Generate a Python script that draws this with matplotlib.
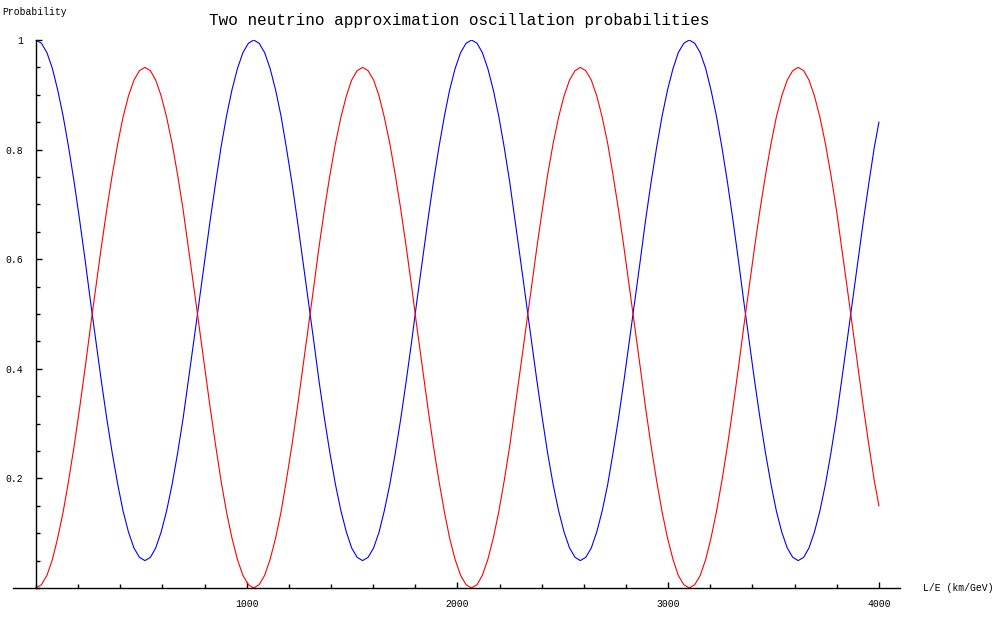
import matplotlib
matplotlib.use("Agg")
import matplotlib.pyplot as plt
from matplotlib.ticker import MultipleLocator

le = [0, 26, 52, 78, 103, 129, 155, 181, 207, 233,
      258, 284, 310, 336, 362, 388, 413, 439, 465, 491,
      517, 543, 568, 594, 620, 646, 672, 698, 723, 749,
      775, 801, 827, 853, 878, 904, 930, 956, 982, 1008,
      1033, 1059, 1085, 1111, 1137, 1163, 1188, 1214, 1240, 1266,
      1292, 1318, 1343, 1369, 1395, 1421, 1447, 1473, 1498, 1524,
      1550, 1576, 1602, 1628, 1653, 1679, 1705, 1731, 1757, 1783,
      1808, 1834, 1860, 1886, 1912, 1938, 1963, 1989, 2015, 2041,
      2067, 2093, 2118, 2144, 2170, 2196, 2222, 2248, 2273, 2299,
      2325, 2351, 2377, 2403, 2428, 2454, 2480, 2506, 2532, 2558,
      2583, 2609, 2635, 2661, 2687, 2713, 2738, 2764, 2790, 2816,
      2842, 2868, 2893, 2919, 2945, 2971, 2997, 3023, 3048, 3074,
      3100, 3126, 3152, 3178, 3203, 3229, 3255, 3281, 3307, 3333,
      3358, 3384, 3410, 3436, 3462, 3488, 3513, 3539, 3565, 3591,
      3617, 3643, 3668, 3694, 3720, 3746, 3772, 3798, 3823, 3849,
      3875, 3901, 3927, 3953, 3978, 4000]

# appearance probability (red)
p_red = [0.0, 0.006, 0.023, 0.052, 0.091, 0.139, 0.196, 0.259, 0.328, 0.401,
         0.475, 0.549, 0.622, 0.691, 0.754, 0.811, 0.859, 0.898, 0.927, 0.944,
         0.95, 0.944, 0.927, 0.898, 0.859, 0.811, 0.754, 0.691, 0.622, 0.549,
         0.475, 0.401, 0.328, 0.259, 0.196, 0.139, 0.091, 0.052, 0.023, 0.006,
         0.0, 0.006, 0.023, 0.052, 0.091, 0.139, 0.196, 0.259, 0.328, 0.401,
         0.475, 0.549, 0.622, 0.691, 0.754, 0.811, 0.859, 0.898, 0.927, 0.944,
         0.95, 0.944, 0.927, 0.898, 0.859, 0.811, 0.754, 0.691, 0.622, 0.549,
         0.475, 0.401, 0.328, 0.259, 0.196, 0.139, 0.091, 0.052, 0.023, 0.006,
         0.0, 0.006, 0.023, 0.052, 0.091, 0.139, 0.196, 0.259, 0.328, 0.401,
         0.475, 0.549, 0.622, 0.691, 0.754, 0.811, 0.859, 0.898, 0.927, 0.944,
         0.95, 0.944, 0.927, 0.898, 0.859, 0.811, 0.754, 0.691, 0.622, 0.549,
         0.475, 0.401, 0.328, 0.259, 0.196, 0.139, 0.091, 0.052, 0.023, 0.006,
         0.0, 0.006, 0.023, 0.052, 0.091, 0.139, 0.196, 0.259, 0.328, 0.401,
         0.475, 0.549, 0.622, 0.691, 0.754, 0.811, 0.859, 0.898, 0.927, 0.944,
         0.95, 0.944, 0.927, 0.898, 0.859, 0.811, 0.754, 0.691, 0.622, 0.549,
         0.475, 0.401, 0.328, 0.259, 0.196, 0.150]

# survival probability (blue)
p_blue = [1.0, 0.994, 0.977, 0.948, 0.909, 0.861, 0.804, 0.741, 0.672, 0.599,
          0.525, 0.451, 0.378, 0.309, 0.246, 0.189, 0.141, 0.102, 0.073, 0.056,
          0.05, 0.056, 0.073, 0.102, 0.141, 0.189, 0.246, 0.309, 0.378, 0.451,
          0.525, 0.599, 0.672, 0.741, 0.804, 0.861, 0.909, 0.948, 0.977, 0.994,
          1.0, 0.994, 0.977, 0.948, 0.909, 0.861, 0.804, 0.741, 0.672, 0.599,
          0.525, 0.451, 0.378, 0.309, 0.246, 0.189, 0.141, 0.102, 0.073, 0.056,
          0.05, 0.056, 0.073, 0.102, 0.141, 0.189, 0.246, 0.309, 0.378, 0.451,
          0.525, 0.599, 0.672, 0.741, 0.804, 0.861, 0.909, 0.948, 0.977, 0.994,
          1.0, 0.994, 0.977, 0.948, 0.909, 0.861, 0.804, 0.741, 0.672, 0.599,
          0.525, 0.451, 0.378, 0.309, 0.246, 0.189, 0.141, 0.102, 0.073, 0.056,
          0.05, 0.056, 0.073, 0.102, 0.141, 0.189, 0.246, 0.309, 0.378, 0.451,
          0.525, 0.599, 0.672, 0.741, 0.804, 0.861, 0.909, 0.948, 0.977, 0.994,
          1.0, 0.994, 0.977, 0.948, 0.909, 0.861, 0.804, 0.741, 0.672, 0.599,
          0.525, 0.451, 0.378, 0.309, 0.246, 0.189, 0.141, 0.102, 0.073, 0.056,
          0.05, 0.056, 0.073, 0.102, 0.141, 0.189, 0.246, 0.309, 0.378, 0.451,
          0.525, 0.599, 0.672, 0.741, 0.804, 0.850]

x_major = [1000, 2000, 3000, 4000]
y_major = [0.2, 0.4, 0.6, 0.8, 1.0]
y_labels = ["0.2", "0.4", "0.6", "0.8", "1"]

mono = "Liberation Mono"

fig = plt.figure(figsize=(10, 6.18), dpi=100)
ax = fig.add_axes([0.013, 30 / 618, 0.887, 548 / 618])

ax.plot(le, p_blue, color="#0000ff", lw=0.8)
ax.plot(le, p_red, color="#ff0000", lw=0.8)

ax.set_xlim(-109, 4100)
ax.set_ylim(0, 1)

for side in ("top", "right"):
    ax.spines[side].set_visible(False)
ax.spines["left"].set_position(("data", 0))
ax.spines["bottom"].set_position(("data", 0))
for side in ("left", "bottom"):
    ax.spines[side].set_linewidth(1.0)

ax.set_xticks(x_major)
ax.set_xticklabels([str(v) for v in x_major])
ax.set_yticks(y_major)
ax.set_yticklabels(y_labels)
ax.xaxis.set_minor_locator(MultipleLocator(200))
ax.yaxis.set_minor_locator(MultipleLocator(0.05))
ax.tick_params(axis="both", which="both", direction="in", width=1.0,
               labelsize=7, labelfontfamily=mono)
ax.tick_params(axis="both", which="major", length=4)
ax.tick_params(axis="both", which="minor", length=3)
ax.tick_params(axis="x", which="major", pad=8)
ax.tick_params(axis="y", which="major", pad=9.5)

fig.text(0.459, 1 - 20 / 618, "Two neutrino approximation oscillation probabilities",
         ha="center", va="center", fontsize=11.5, family=mono)
fig.text(0.002, 1 - 12 / 618, "Probability", ha="left", va="center",
         fontsize=7, family=mono)
fig.text(0.923, 1 - 588 / 618, "L/E (km/GeV)", ha="left", va="center",
         fontsize=7, family=mono)

fig.savefig("out.png", dpi=100)
